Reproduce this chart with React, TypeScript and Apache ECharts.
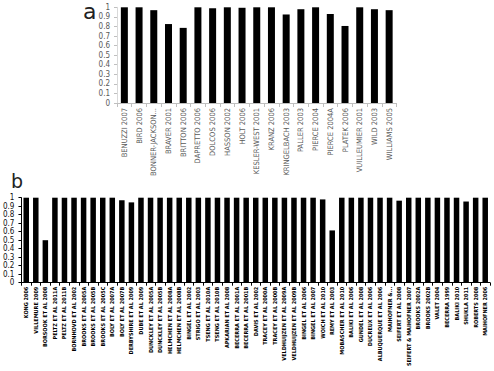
import React, { useEffect, useRef } from "react";
import * as echarts from "echarts";

const aCategories = [
  "BENUZZI 2007", "BIRD 2006", "BONNER-JACKSON...", "BRAVER 2001", "BRITTON 2006",
  "DAPRETTO 2006", "DOLCOS 2006", "HASSON 2002", "HOLT 2006", "KESLER-WEST 2001",
  "KRANZ 2006", "KRINGELBACH 2003", "PALLER 2003", "PIERCE 2004", "PIERCE 2004A",
  "PLATEK 2006", "VUILLEUMIER 2001", "WILD 2003", "WILLIAMS 2005",
];
const aValues = [1, 1, 0.97, 0.825, 0.785, 1, 0.99, 1, 0.995, 1, 1, 0.925, 0.98, 1, 0.93, 0.805, 1, 0.98, 0.97];

const bCategories = [
  "KONG 2006", "VILLEMURE 2009", "BORSOOK ET AL 2008", "PELTZ ET AL 2011A", "PELTZ ET AL 2011B",
  "BORNHOVD ET AL 2002", "BROOKS ET AL 2005A", "BROOKS ET AL 2005B", "BROOKS ET AL 2005C",
  "BOLY ET AL 2007A", "BOLY ET AL 2007B", "DERBYSHIRE ET AL 2009", "DUBE ET AL 2009",
  "DUNCKLEY ET AL 2005A", "DUNCKLEY ET AL 2005B", "HELMCHEN ET AL 2008A", "HELMCHEN ET AL 2008B",
  "BINGEL ET AL 2002", "STRIGO ET AL 2003", "TSENG ET AL 2010A", "TSENG ET AL 2010B",
  "APKARIAN ET AL 2008", "BECERRA ET AL 2001A", "BECERRA ET AL 2001B", "DAVIS ET AL 2002",
  "TRACEY ET AL 2000A", "TRACEY ET AL 2000B", "VELDHUIJZEN ET AL 2009A", "VELDHUIJZEN ET AL 2009B",
  "BINGEL ET AL 2006", "BINGEL ET AL 2007", "WOICH ET AL 2010", "REMY ET AL 2003",
  "MOBASCHER ET AL 2010", "BALIKI ET AL 2006", "GUNDEL ET AL 2008", "DUCREUX ET AL 2006",
  "ALBUQUERQUE ET AL 2006", "MAIHOFNER &...", "SEIFERT ET AL 2008", "SEIFERT & MAIHOFNER 2007",
  "BROOKS 2002A", "BROOKS 2002B", "VALET 2004", "BECERRA 1999", "BALIKI 2010", "SHUKLA 2011",
  "ROBERTS 2008", "MAIHOFNER 2006",
];
const bValues = [
  1, 1, 0.5, 1, 1, 1, 1, 1, 1, 1, 0.97, 0.945, 1, 1, 1, 1, 1, 1, 1, 1, 1, 1, 1, 1, 1,
  1, 1, 1, 1, 1, 1, 0.98, 0.615, 1, 1, 1, 1, 1, 1, 0.965, 1, 1, 1, 1, 1, 1, 0.955, 1, 1,
];

const yTicks = [0, 0.1, 0.2, 0.3, 0.4, 0.5, 0.6, 0.7, 0.8, 0.9, 1];

export default function App() {
  const ref = useRef<HTMLDivElement>(null);
  useEffect(() => {
    if (!ref.current) return;
    const chart = echarts.init(ref.current, null, { renderer: "svg" });
    const fmt = (v: number) => {
      const r = Math.round(v * 10) / 10;
      return yTicks.includes(r) ? String(r) : "";
    };
    const narrow = "'DejaVu Sans Condensed', 'Liberation Sans', sans-serif";
    chart.setOption({
      animation: false,
      backgroundColor: "#ffffff",
      grid: [
        { left: 117, top: 7.3, width: 279.5, height: 95.7 },
        { left: 21, top: 197.7, width: 469, height: 85 },
      ],
      xAxis: [
        {
          type: "category",
          gridIndex: 0,
          data: aCategories,
          axisLine: { show: true, lineStyle: { color: "#bfbfbf", width: 1 } },
          axisTick: { show: true, length: 4, lineStyle: { color: "#bfbfbf" } },
          axisLabel: {
            rotate: 90, interval: 0, fontSize: 7.5, fontFamily: narrow, color: "#595959", margin: 5,
            align: "right", verticalAlign: "middle", hideOverlap: false,
          },
        },
        {
          type: "category",
          gridIndex: 1,
          data: bCategories,
          axisLine: { show: true, lineStyle: { color: "#000000", width: 1 } },
          axisTick: { show: true, length: 3, lineStyle: { color: "#000000" } },
          axisLabel: {
            rotate: 90, interval: 0, fontSize: 5.5, fontWeight: "bold", fontFamily: narrow, color: "#000000", margin: 4,
            align: "right", verticalAlign: "middle", hideOverlap: false,
          },
        },
      ],
      yAxis: [
        {
          type: "value",
          gridIndex: 0,
          min: 0,
          max: 1,
          interval: 0.1,
          splitLine: { show: false },
          axisLine: { show: true, lineStyle: { color: "#d9d9d9" } },
          axisTick: { show: true, length: 3, lineStyle: { color: "#bfbfbf" } },
          axisLabel: { fontSize: 8, fontFamily: narrow, color: "#595959", margin: 7, formatter: fmt },
        },
        {
          type: "value",
          gridIndex: 1,
          min: 0,
          max: 1,
          interval: 0.1,
          splitLine: { show: false },
          axisLine: { show: true, lineStyle: { color: "#000000" } },
          axisTick: { show: true, length: 3, lineStyle: { color: "#000000" } },
          axisLabel: { fontSize: 8, fontFamily: narrow, color: "#111111", margin: 7, formatter: fmt },
        },
      ],
      series: [
        {
          type: "bar",
          xAxisIndex: 0,
          yAxisIndex: 0,
          data: aValues,
          barWidth: 7,
          itemStyle: { color: "#000000" },
        },
        {
          type: "bar",
          xAxisIndex: 1,
          yAxisIndex: 1,
          data: bValues,
          barWidth: 5.5,
          itemStyle: { color: "#000000" },
        },
      ],
      graphic: [
        {
          type: "text",
          x: 83,
          y: 11,
          style: {
            text: "a", fontSize: 22, fontFamily: "DejaVu Sans", fill: "#222222",
            align: "left", verticalAlign: "middle",
          },
        },
        {
          type: "text",
          x: 11,
          y: 181,
          style: {
            text: "b", fontSize: 19, fontFamily: "DejaVu Sans", fill: "#222222",
            align: "left", verticalAlign: "middle",
          },
        },
      ],
    });
    return () => chart.dispose();
  }, []);
  return (
    <div
      ref={ref}
      style={{ position: "absolute", left: 0, top: 0, width: 494, height: 371, background: "#fff" }}
    />
  );
}
